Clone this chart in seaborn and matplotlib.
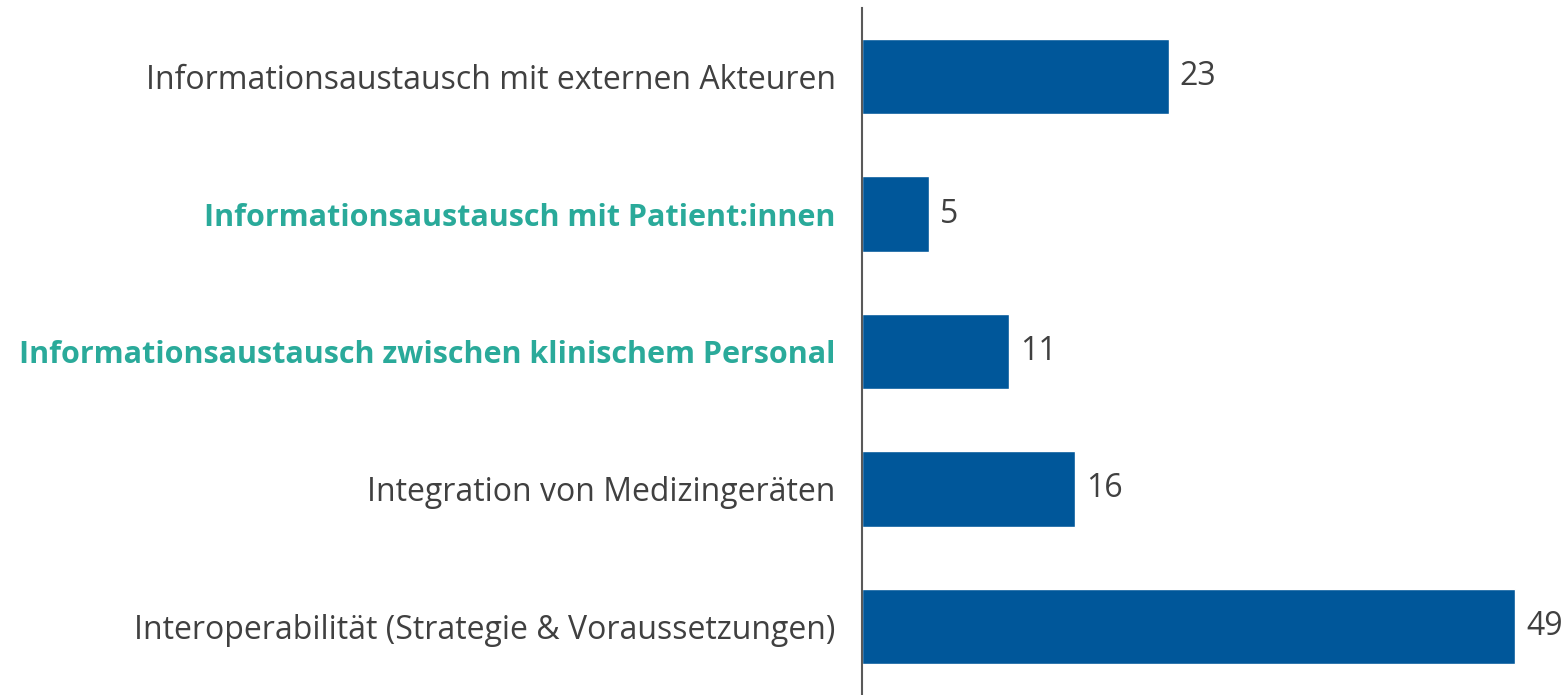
import pandas as pd
import matplotlib.pyplot as plt
import seaborn as sns

categories = ['Informationsaustausch mit externen Akteuren',
              'Informationsaustausch mit Patient:innen',
              'Informationsaustausch zwischen klinischem Personal',
              'Integration von Medizingeräten',
              'Interoperabilität (Strategie & Voraussetzungen)']
values = [23, 5, 11, 16, 49]
highlighted = ['Informationsaustausch mit Patient:innen',
               'Informationsaustausch zwischen klinischem Personal']

df = pd.DataFrame({'Kategorie': categories, 'Anzahl': values})

sns.set_style('white')
plt.rcParams['font.family'] = ['Open Sans', 'DejaVu Sans']

fig = plt.figure(figsize=(15.66, 6.95), dpi=100)
ax = fig.add_axes([862 / 1566, 0, (1566 - 862) / 1566, 687 / 695])

sns.barplot(data=df, x='Anzahl', y='Kategorie', orient='h', color='#00579A',
            width=0.55, saturation=1, ax=ax)

ax.set_xlim(0, 52.8)
ax.set_xlabel('')
ax.set_ylabel('')
ax.set_xticks([])
for s in ['top', 'right', 'bottom']:
    ax.spines[s].set_visible(False)
ax.spines['left'].set_color('#595959')
ax.spines['left'].set_linewidth(1.5)

ax.tick_params(axis='y', length=0, pad=19, labelsize=23, labelcolor='#404040')
for lbl in ax.get_yticklabels():
    if lbl.get_text() in highlighted:
        lbl.set_color('#2AAA9A')
        lbl.set_fontweight('bold')
        lbl.set_fontsize(22)

ax.bar_label(ax.containers[0], labels=[str(v) for v in values],
             padding=8, fontsize=23, color='#404040')

plt.savefig('out.png', dpi=100)
